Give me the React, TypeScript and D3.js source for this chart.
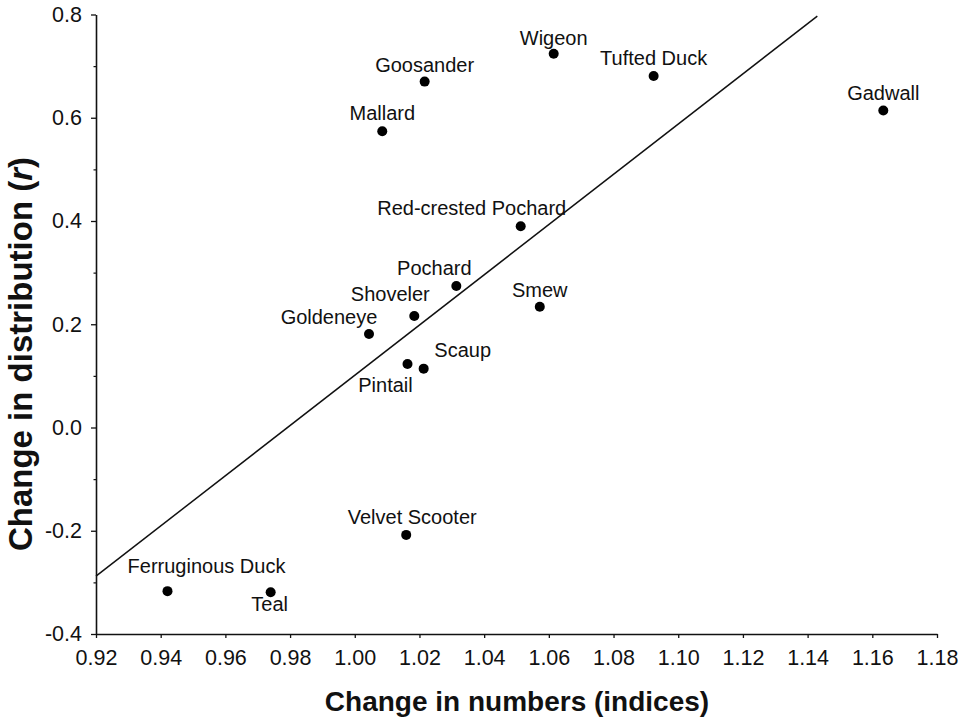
import React, { useRef, useEffect } from "react";
import * as d3 from "d3";

// species and their values
const species = [
  "Goosander", "Wigeon", "Mallard", "Tufted Duck", "Gadwall",
  "Red-crested Pochard", "Pochard", "Smew", "Shoveler", "Goldeneye",
  "Pintail", "Scaup", "Velvet Scooter", "Ferruginous Duck", "Teal",
];
const numbersChange = [
  1.0216, 1.0615, 1.0085, 1.0924, 1.1634,
  1.0513, 1.0314, 1.0572, 1.0184, 1.0044,
  1.0163, 1.0213, 1.0159, 0.9421, 0.974,
];
const distributionChange = [
  0.670, 0.724, 0.574, 0.681, 0.614,
  0.390, 0.274, 0.234, 0.216, 0.181,
  0.123, 0.114, -0.208, -0.317, -0.319,
];

// regression line end points
const fitX = [0.92, 1.143];
const fitY = [-0.288, 0.797];

const xTicks = [0.92, 0.94, 0.96, 0.98, 1.0, 1.02, 1.04, 1.06, 1.08, 1.1, 1.12, 1.14, 1.16, 1.18];
const yTicks = [-0.4, -0.2, 0.0, 0.2, 0.4, 0.6, 0.8];
const yMinorTicks = [-0.3, -0.1, 0.1, 0.3, 0.5, 0.7];

// label placement relative to dot (dx, dy of baseline)
const labelOffset = {
  "Goosander": [0, -10],
  "Wigeon": [0, -9],
  "Mallard": [0, -11],
  "Tufted Duck": [0, -11],
  "Gadwall": [0, -11],
  "Red-crested Pochard": [-49, -11],
  "Pochard": [-22, -11],
  "Smew": [0, -10],
  "Shoveler": [-24, -15],
  "Goldeneye": [-40, -10],
  "Pintail": [-22, 28],
  "Scaup": [39, -12],
  "Velvet Scooter": [6, -11],
  "Ferruginous Duck": [39, -18],
  "Teal": [-1, 19],
};

const W = 966;
const H = 718;
const FONT = "'Liberation Sans', Arial, Helvetica, sans-serif";

export default function App() {
  const svgRef = useRef(null);

  useEffect(() => {
    document.body.style.margin = "0";
    const svg = d3.select(svgRef.current);
    svg.selectAll("*").remove();

    const x = d3.scaleLinear().domain([0.92, 1.18]).range([96, 937]);
    const y = d3.scaleLinear().domain([-0.4, 0.8]).range([634, 14.5]);

    // plain hyphen for negatives, like the original figure
    const fmtX = (v) => v.toFixed(2);
    const fmtY = (v) => v.toFixed(1);

    // x axis
    const xAxis = svg.append("g")
      .attr("transform", `translate(0,${y(-0.4)})`)
      .call(d3.axisBottom(x).tickValues(xTicks).tickFormat(fmtX).tickSize(4).tickSizeOuter(0).tickPadding(12));
    xAxis.select(".domain").attr("stroke", "#111").attr("stroke-width", 1.6);
    xAxis.selectAll(".tick line").attr("stroke", "#111").attr("stroke-width", 1.3);
    xAxis.selectAll(".tick text")
      .attr("font-family", FONT).attr("font-size", 21.5).attr("fill", "#111");

    // y axis
    const yAxis = svg.append("g")
      .attr("transform", `translate(${x(0.92)},0)`)
      .call(d3.axisLeft(y).tickValues(yTicks).tickFormat(fmtY).tickSize(5).tickSizeOuter(0).tickPadding(9));
    yAxis.select(".domain").attr("stroke", "#111").attr("stroke-width", 1.6);
    yAxis.selectAll(".tick line").attr("stroke", "#111").attr("stroke-width", 1.3);
    yAxis.selectAll(".tick text")
      .attr("font-family", FONT).attr("font-size", 21.5).attr("fill", "#111");

    const yMinor = svg.append("g")
      .attr("transform", `translate(${x(0.92)},0)`)
      .call(d3.axisLeft(y).tickValues(yMinorTicks).tickFormat(() => "").tickSize(2.5).tickSizeOuter(0));
    yMinor.select(".domain").remove();
    yMinor.selectAll(".tick line").attr("stroke", "#111").attr("stroke-width", 1.2);

    // regression line
    const line = d3.line().x((d) => x(d[0])).y((d) => y(d[1]));
    svg.append("path")
      .attr("d", line(d3.zip(fitX, fitY)))
      .attr("fill", "none")
      .attr("stroke", "#111")
      .attr("stroke-width", 1.5);

    const pts = species.map((s, i) => ({ name: s, vx: numbersChange[i], vy: distributionChange[i] }));

    svg.selectAll(".dot")
      .data(pts)
      .join("circle")
      .attr("class", "dot")
      .attr("cx", (d) => x(d.vx))
      .attr("cy", (d) => y(d.vy))
      .attr("r", 5)
      .attr("fill", "#000");

    svg.selectAll(".label")
      .data(pts)
      .join("text")
      .attr("class", "label")
      .attr("x", (d) => x(d.vx) + labelOffset[d.name][0])
      .attr("y", (d) => y(d.vy) + labelOffset[d.name][1])
      .attr("text-anchor", "middle")
      .attr("font-family", FONT)
      .attr("font-size", 20)
      .attr("fill", "#111")
      .text((d) => d.name);

    // axis titles
    svg.append("text")
      .attr("x", 517)
      .attr("y", 711)
      .attr("text-anchor", "middle")
      .attr("font-family", FONT)
      .attr("font-weight", "bold")
      .attr("font-size", 28)
      .attr("fill", "#111")
      .text("Change in numbers (indices)");

    const yt = svg.append("text")
      .attr("transform", "translate(32,354) rotate(-90)")
      .attr("text-anchor", "middle")
      .attr("font-family", FONT)
      .attr("font-weight", "bold")
      .attr("font-size", 33)
      .attr("fill", "#111");
    yt.append("tspan").text("Change in distribution (");
    yt.append("tspan").attr("font-style", "italic").text("r");
    yt.append("tspan").text(")");
  }, []);

  return <svg ref={svgRef} width={W} height={H} style={{ display: "block", background: "#fff" }} />;
}
